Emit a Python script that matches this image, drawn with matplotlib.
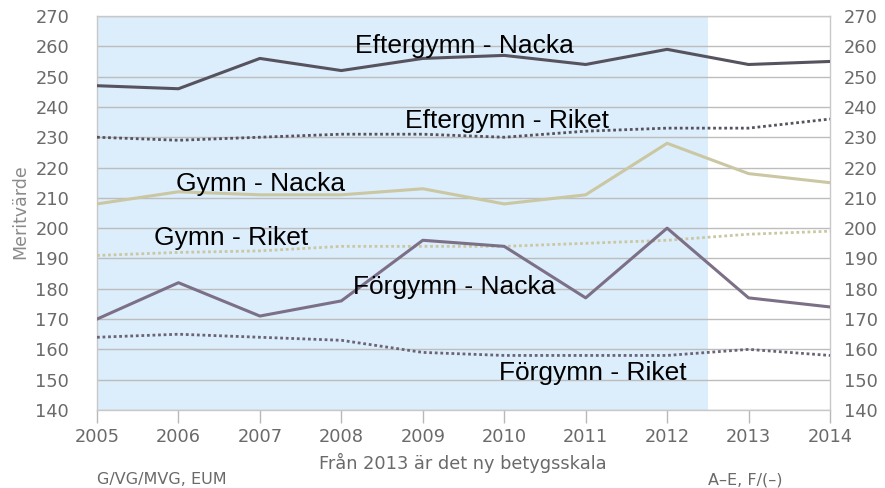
import matplotlib
matplotlib.use("Agg")
import matplotlib.pyplot as plt

plt.rcParams['font.family'] = ['DejaVu Sans']

years = [2005, 2006, 2007, 2008, 2009, 2010, 2011, 2012, 2013, 2014]
efter_nacka = [247, 246, 256, 252, 256, 257, 254, 259, 254, 255]
efter_riket = [230, 229, 230, 231, 231, 230, 232, 233, 233, 236]
gymn_nacka = [208, 212, 211, 211, 213, 208, 211, 228, 218, 215]
gymn_riket = [191, 192, 192.5, 194, 194, 194, 195, 196, 198, 199]
forg_nacka = [170, 182, 171, 176, 196, 194, 177, 200, 177, 174]
forg_riket = [164, 165, 164, 163, 159, 158, 158, 158, 160, 158]
yticks = list(range(140, 271, 10))
shade_end = 2012.5

labels = [
    ("Eftergymn - Nacka", 2008.17, 257.8),
    ("Eftergymn - Riket", 2008.78, 233.0),
    ("Gymn - Nacka", 2005.97, 212.4),
    ("Gymn - Riket", 2005.70, 194.4),
    ("Förgymn - Nacka", 2008.14, 178.2),
    ("Förgymn - Riket", 2009.93, 149.9),
]

fig = plt.figure(figsize=(8.85, 4.88), dpi=100)
ax = fig.add_axes([97/885, 1-410/488, (830-97)/885, (410-16)/488])
ax.set_xlim(2005, 2014)
ax.set_ylim(140, 270)

ax.axvspan(2005, shade_end, color="#dcedfc", zorder=0, lw=0)
for y in yticks:
    ax.axhline(y, color="#bdbdbd", lw=1.0, zorder=1)

solid_lw = 2.2
dot = (0, (1, 1.0))
ax.plot(years, efter_nacka, color="#56535e", lw=solid_lw, zorder=3)
ax.plot(years, efter_riket, color="#56535e", lw=2.0, ls=dot, zorder=3)
ax.plot(years, gymn_nacka, color="#cac7a2", lw=solid_lw, zorder=3)
ax.plot(years, gymn_riket, color="#cac7a2", lw=2.0, ls=dot, zorder=3)
ax.plot(years, forg_nacka, color="#7c7086", lw=solid_lw, zorder=3)
ax.plot(years, forg_riket, color="#6a6474", lw=2.0, ls=dot, zorder=3)

for txt, x, y in labels:
    ax.text(x, y, txt, fontsize=19, family="Liberation Sans", color="black",
            ha="left", va="baseline", zorder=5)

for s in ax.spines.values():
    s.set_color("#c8c8c8")
    s.set_linewidth(1.0)

tick_size = 12.8
ax.set_yticks(yticks)
ax.set_xticks(years)
ax.tick_params(axis="y", which="both", length=0, labelsize=tick_size, colors="#6a6a6a",
               left=True, right=False, labelleft=True, labelright=False, pad=20)
ax.tick_params(axis="x", length=9, width=1.0, color="#b8b8b8", labelsize=tick_size,
               labelcolor="#6a6a6a", pad=4)
ax.set_yticklabels([str(v) for v in yticks])
ax.set_xticklabels([str(v) for v in years])

ax2 = ax.twinx()
ax2.set_ylim(140, 270)
ax2.set_yticks(yticks)
ax2.set_yticklabels([str(v) for v in yticks])
ax2.tick_params(axis="y", length=0, labelsize=tick_size, colors="#6a6a6a", pad=10)
for s in ax2.spines.values():
    s.set_visible(False)

fig.text(20/885, 1-212/488, "Meritvärde", rotation=90, fontsize=12.5, color="#8a8a8a",
         ha="center", va="center")
fig.text(463/885, 1-463/488, "Från 2013 är det ny betygsskala", fontsize=12.8,
         color="#6a6a6a", ha="center", va="center")
fig.text(97/885, 1-480/488, "G/VG/MVG, EUM", fontsize=11.5, color="#6a6a6a",
         ha="left", va="center")
fig.text(708/885, 1-480/488, "A–E, F/(–)", fontsize=11.5, color="#6a6a6a",
         ha="left", va="center")

fig.savefig("out.png", dpi=100)
